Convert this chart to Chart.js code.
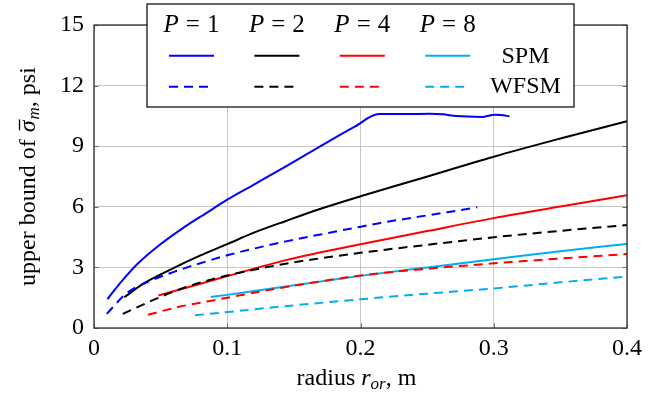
<!DOCTYPE html>
<html>
<head>
<meta charset="utf-8">
<script src="https://cdn.jsdelivr.net/npm/chart.js@4/dist/chart.umd.min.js"></script>
<style>
  html, body { margin: 0; padding: 0; background: #fff; }
  canvas { display: block; }
</style>
</head>
<body>
<canvas id="chart" width="666" height="401"></canvas>
<script>
// Rotor outer radius (m) and upper bound of mean shear stress (psi)
const radiusP1Spm = [0.0101, 0.0196, 0.032, 0.0496, 0.067, 0.0845, 0.1, 0.12, 0.145, 0.17, 0.195, 0.2139, 0.2344, 0.2518, 0.2618, 0.2718, 0.2918, 0.3005, 0.3055, 0.3118];
const stressP1Spm = [1.43, 2.22, 3.13, 4.13, 4.96, 5.7, 6.35, 7.1, 8.04, 9.0, 9.94, 10.59, 10.59, 10.61, 10.58, 10.49, 10.45, 10.56, 10.54, 10.48];

const radiusP2Spm = [0.0227, 0.0371, 0.057, 0.0795, 0.1, 0.12, 0.144, 0.169, 0.2, 0.242, 0.3, 0.35, 0.4];
const stressP2Spm = [1.52, 2.2, 2.88, 3.58, 4.15, 4.72, 5.3, 5.88, 6.52, 7.34, 8.48, 9.38, 10.24];

const radiusP4Spm = [0.0483, 0.0746, 0.1, 0.144, 0.2, 0.25, 0.3, 0.35, 0.4];
const stressP4Spm = [1.61, 2.09, 2.57, 3.36, 4.15, 4.8, 5.44, 6.01, 6.57];

const radiusP8Spm = [0.0876, 0.1, 0.14, 0.2, 0.25, 0.3, 0.35, 0.4];
const stressP8Spm = [1.53, 1.64, 2.02, 2.58, 3.0, 3.4, 3.8, 4.16];

const radiusP1Wfsm = [0.0096, 0.0246, 0.041, 0.06, 0.0746, 0.1, 0.12, 0.145, 0.17, 0.195, 0.215, 0.24, 0.265, 0.2876];
const stressP1Wfsm = [0.7, 1.73, 2.3, 2.78, 3.1, 3.6, 3.93, 4.3, 4.63, 4.95, 5.2, 5.47, 5.73, 5.98];

const radiusP2Wfsm = [0.0216, 0.0446, 0.067, 0.087, 0.1, 0.125, 0.15, 0.2, 0.25, 0.3, 0.35, 0.4];
const stressP2Wfsm = [0.7, 1.39, 1.98, 2.38, 2.6, 2.95, 3.25, 3.72, 4.12, 4.49, 4.81, 5.1];

const radiusP4Wfsm = [0.0405, 0.0646, 0.088, 0.1, 0.14, 0.2, 0.25, 0.3, 0.35, 0.4];
const stressP4Wfsm = [0.66, 1.06, 1.35, 1.5, 1.98, 2.6, 2.93, 3.2, 3.44, 3.66];

const radiusP8Wfsm = [0.0758, 0.1, 0.15, 0.2, 0.25, 0.3, 0.35, 0.4];
const stressP8Wfsm = [0.63, 0.79, 1.12, 1.42, 1.7, 1.96, 2.26, 2.55];

const poleCounts = [1, 2, 4, 8];
const machineTypes = ['SPM', 'WFSM'];
const xTicks = [0, 0.1, 0.2, 0.3, 0.4];
const yTicks = [0, 3, 6, 9, 12, 15];

const poleColors = ['#0000ff', '#000000', '#ff0000', 'rgb(0,174,239)'];
const dashPattern = [9, 6];
const serif = '"Liberation Serif", "Times New Roman", serif';

const spmSeries = [[radiusP1Spm, stressP1Spm], [radiusP2Spm, stressP2Spm], [radiusP4Spm, stressP4Spm], [radiusP8Spm, stressP8Spm]];
const wfsmSeries = [[radiusP1Wfsm, stressP1Wfsm], [radiusP2Wfsm, stressP2Wfsm], [radiusP4Wfsm, stressP4Wfsm], [radiusP8Wfsm, stressP8Wfsm]];

function toPoints(xs, ys) { return xs.map((x, i) => ({ x, y: ys[i] })); }

const datasets = [];
spmSeries.forEach(([xs, ys], i) => datasets.push({
  label: 'P = ' + poleCounts[i] + ' ' + machineTypes[0],
  data: toPoints(xs, ys), borderColor: poleColors[i], borderWidth: 2,
  showLine: true, pointRadius: 0, cubicInterpolationMode: 'monotone', order: 1
}));
wfsmSeries.forEach(([xs, ys], i) => datasets.push({
  label: 'P = ' + poleCounts[i] + ' ' + machineTypes[1],
  data: toPoints(xs, ys), borderColor: poleColors[i], borderWidth: 2, borderDash: dashPattern,
  showLine: true, pointRadius: 0, cubicInterpolationMode: 'monotone', order: 0
}));

// Draws runs of [text, font, dy, gapAfter] from x on a baseline; returns start x of each run
function drawRuns(ctx, runs, x, y) {
  let cx = x;
  const starts = [];
  runs.forEach(([t, f, dy, gap]) => {
    ctx.font = f;
    starts.push(cx);
    ctx.fillText(t, cx, y + (dy || 0));
    cx += ctx.measureText(t).width + (gap || 0);
  });
  return starts;
}
function runsWidth(ctx, runs) {
  return runs.reduce((w, [t, f, dy, gap]) => { ctx.font = f; return w + ctx.measureText(t).width + (gap || 0); }, 0);
}

const framePlugin = {
  id: 'frameTicksLegend',
  afterDatasetsDraw(chart) {
    const { ctx, chartArea: a, scales } = chart;
    ctx.save();
    // inward tick marks on all four sides
    ctx.strokeStyle = '#6a6a6a';
    ctx.lineWidth = 1;
    ctx.beginPath();
    xTicks.forEach(v => {
      const px = Math.round(scales.x.getPixelForValue(v)) + 0.5;
      ctx.moveTo(px, a.bottom); ctx.lineTo(px, a.bottom - 4.5);
      ctx.moveTo(px, a.top); ctx.lineTo(px, a.top + 4.5);
    });
    yTicks.forEach(v => {
      const py = Math.round(scales.y.getPixelForValue(v)) + 0.5;
      ctx.moveTo(a.left, py); ctx.lineTo(a.left + 4.5, py);
      ctx.moveTo(a.right, py); ctx.lineTo(a.right - 4.5, py);
    });
    ctx.stroke();
    // axis frame
    ctx.strokeStyle = '#2e2e2e';
    ctx.lineWidth = 1.3;
    ctx.strokeRect(a.left, a.top, a.right - a.left, a.bottom - a.top);

    // legend box
    const box = { left: 147, top: 4, right: 574, bottom: 107 };
    ctx.fillStyle = '#fff';
    ctx.fillRect(box.left, box.top, box.right - box.left, box.bottom - box.top);
    ctx.strokeStyle = '#000';
    ctx.lineWidth = 1.2;
    ctx.strokeRect(box.left, box.top, box.right - box.left, box.bottom - box.top);

    const colCenter0 = 191.5, colStep = 85.4, sampleLen = 45;
    const rowY = [55.7, 86.7];
    ctx.fillStyle = '#000';
    ctx.textBaseline = 'alphabetic';
    ctx.textAlign = 'left';
    poleCounts.forEach((p, i) => {
      const cx = colCenter0 + i * colStep;
      const runs = [['P', 'italic 25px ' + serif, 0, 7], ['=', '25px ' + serif, 0, 7], [String(p), '25px ' + serif]];
      const w = runsWidth(ctx, runs);
      drawRuns(ctx, runs, cx - w / 2, 32);
      [0, 1].forEach(r => {
        ctx.strokeStyle = poleColors[i];
        ctx.lineWidth = 2;
        ctx.setLineDash(r === 0 ? [] : dashPattern);
        ctx.beginPath();
        ctx.moveTo(cx - sampleLen / 2, rowY[r]);
        ctx.lineTo(cx + sampleLen / 2, rowY[r]);
        ctx.stroke();
      });
    });
    ctx.setLineDash([]);
    ctx.font = '24px ' + serif;
    ctx.textAlign = 'center';
    ctx.fillText(machineTypes[0], 525.5, 63);
    ctx.fillText(machineTypes[1], 525.5, 93);
    ctx.restore();
  },
  afterDraw(chart) {
    const { ctx, chartArea: a } = chart;
    ctx.save();
    ctx.fillStyle = '#000';
    ctx.strokeStyle = '#000';
    ctx.textBaseline = 'alphabetic';
    ctx.textAlign = 'left';
    const reg = '24px ' + serif, it = 'italic 24px ' + serif, sub = 'italic 17px ' + serif;
    // x axis title
    const xRuns = [['radius ', reg], ['r', it], ['or', sub, 4], [', m', reg]];
    const xw = runsWidth(ctx, xRuns);
    drawRuns(ctx, xRuns, (a.left + a.right) / 2 - 4 - xw / 2, 385);
    // y axis title, rotated, with a bar over sigma
    const yRuns = [['upper bound of ', reg, 0, 1], ['\u03C3', it, 0, 1], ['m', sub, 4], [', psi', reg]];
    const yw = runsWidth(ctx, yRuns);
    ctx.translate(35, (a.top + a.bottom) / 2);
    ctx.rotate(-Math.PI / 2);
    const starts = drawRuns(ctx, yRuns, -yw / 2, 0);
    ctx.font = it;
    const sw = ctx.measureText('\u03C3').width;
    ctx.lineWidth = 1.3;
    ctx.beginPath();
    ctx.moveTo(starts[1] + 2, -15.5);
    ctx.lineTo(starts[1] + sw + 1, -15.5);
    ctx.stroke();
    ctx.restore();
  }
};

new Chart(document.getElementById('chart'), {
  type: 'scatter',
  data: { datasets },
  options: {
    responsive: false,
    animation: false,
    layout: { padding: { top: 25, right: 39, left: 0, bottom: 0 } },
    plugins: { legend: { display: false }, tooltip: { enabled: false } },
    scales: {
      x: {
        type: 'linear', min: 0, max: 0.4,
        afterBuildTicks: s => { s.ticks = xTicks.map(v => ({ value: v })); },
        ticks: { color: '#000', font: { family: serif, size: 24 }, padding: 6, maxRotation: 0,
                 callback: v => String(v) },
        grid: { color: '#c6c6c6', drawTicks: false },
        border: { display: false },
        afterFit: s => { s.height = 73; }
      },
      y: {
        type: 'linear', min: 0, max: 15,
        afterBuildTicks: s => { s.ticks = yTicks.map(v => ({ value: v })); },
        ticks: { color: '#000', font: { family: serif, size: 24 }, padding: 10,
                 callback: v => String(v) },
        grid: { color: '#c6c6c6', drawTicks: false },
        border: { display: false },
        afterFit: s => { s.width = 94; }
      }
    }
  },
  plugins: [framePlugin]
});
</script>
</body>
</html>
